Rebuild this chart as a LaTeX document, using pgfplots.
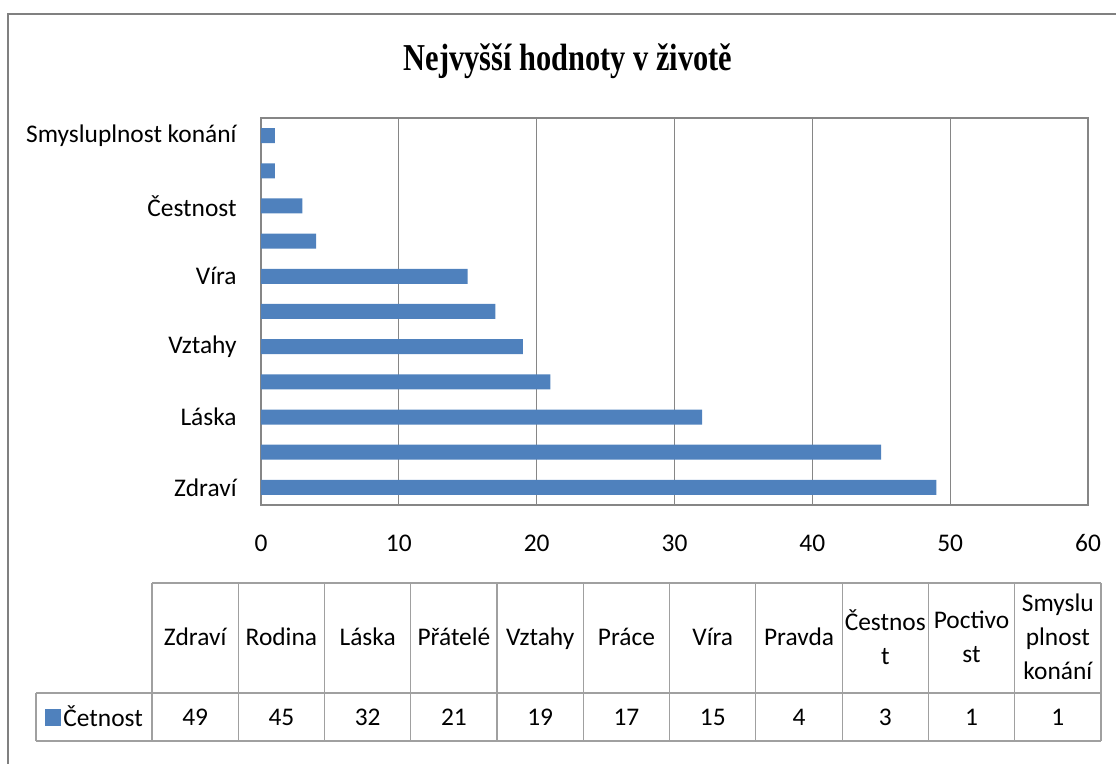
\documentclass[border=0pt]{standalone}
\usepackage{fontspec}
\setmainfont{Carlito}
\newfontfamily\titlefont{Liberation Serif}[FakeStretch=0.8]
\usepackage{pgfplots}
\pgfplotsset{compat=1.18}
\definecolor{barblue}{HTML}{4F81BD}
\definecolor{gridgray}{HTML}{868686}
\definecolor{tablegray}{HTML}{A0A0A0}
\definecolor{framegray}{HTML}{808080}
\begin{document}
\begin{tikzpicture}
\useasboundingbox (0,0) rectangle (558pt,-382pt);
\begin{scope}[x=0.5pt,y=-0.5pt]
  % outer frame
  \draw[framegray, line width=1.3pt] (8,770) -- (8,14) -- (1120,14);
  % title
  \node[font=\titlefont\bfseries\fontsize{19}{22}\selectfont] at (568,61) {Nejvyšší hodnoty v životě};
  % data table
  \begin{scope}[tablegray, line width=0.6pt]
    \draw (152,583) -- (1101,583);
    \draw (36,693) -- (1101,693);
    \draw (36,741) -- (1101,741);
    \draw (36,693) -- (36,741);
    \foreach \k in {0,...,11} \draw ({152+86.27*\k},583) -- ({152+86.27*\k},741);
  \end{scope}
  \foreach \t [count=\i from 0] in {Zdraví,Rodina,Láska,Přátelé,Vztahy,Práce,Víra,Pravda,{Čestnos\\t},{Poctivo\\st},{Smyslu\\plnost\\konání}}
    \node[align=center, font=\fontsize{12.7}{17}\selectfont, inner sep=0pt, text depth=0pt] at ({152+86.27*(\i+0.5)},637) {\t};
  \foreach \v [count=\i from 0] in {49,45,32,21,19,17,15,4,3,1,1}
    \node[font=\fontsize{12.7}{15}\selectfont, inner sep=0pt] at ({152+86.27*(\i+0.5)},717) {\v};
  \fill[barblue] (45,709) rectangle (61,726);
  \node[anchor=west, inner sep=0pt, font=\fontsize{12.7}{15}\selectfont] at (63,716) {Četnost};
\end{scope}
\begin{axis}[
  at={(130.5pt,-252.5pt)}, anchor=south west,
  scale only axis, width=413.5pt, height=193.5pt,
  xbar, bar width=7.5pt,
  xmin=0, xmax=60, ymin=-0.5, ymax=10.5,
  xtick={0,10,...,60},
  ytick={0,2,4,6,8,10},
  yticklabels={Zdraví,Láska,Vztahy,Víra,Čestnost,Smysluplnost konání},
  xmajorgrids,
  major grid style={gridgray, line width=0.6pt},
  axis line style={gridgray, line width=0.6pt},
  major tick length=0pt,
  tick label style={font=\fontsize{12.7}{15}\selectfont},
  /pgf/number format/assume math mode=true,
  xticklabel style={anchor=center, yshift=-19pt},
  yticklabel style={anchor=east, xshift=-12pt, inner sep=0pt},
]
\addplot[fill=barblue, draw=none] coordinates {
  (49,0) (45,1) (32,2) (21,3) (19,4) (17,5) (15,6) (4,7) (3,8) (1,9) (1,10)
};
\end{axis}
\end{tikzpicture}
\end{document}
